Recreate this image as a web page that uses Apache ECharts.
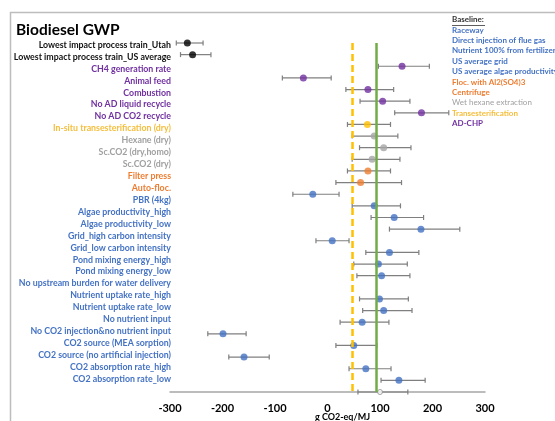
<!DOCTYPE html>
<html>
<head>
<meta charset="utf-8">
<script src="https://cdn.jsdelivr.net/npm/echarts@6.0.0/dist/echarts.min.js"></script>
<style>
  html, body { margin: 0; padding: 0; background: #ffffff; }
  #chart { width: 555px; height: 421px; }
</style>
</head>
<body>
<div id="chart"></div>
<script>
// Sensitivity scenarios (top to bottom) and their process group
const scenarios = [
  'Lowest impact process train_Utah',
  'Lowest impact process train_US average',
  'CH4 generation rate',
  'Animal feed',
  'Combustion',
  'No AD liquid recycle',
  'No AD CO2 recycle',
  'In-situ transesterification (dry)',
  'Hexane (dry)',
  'Sc.CO2 (dry,homo)',
  'Sc.CO2 (dry)',
  'Filter press',
  'Auto-floc.',
  'PBR (4kg)',
  'Algae productivity_high',
  'Algae productivity_low',
  'Grid_high carbon intensity',
  'Grid_low carbon intensity',
  'Pond mixing energy_high',
  'Pond mixing energy_low',
  'No upstream burden for water delivery',
  'Nutrient uptake rate_high',
  'Nutrient uptake rate_low',
  'No nutrient input',
  'No CO2 injection&no nutrient input',
  'CO2 source (MEA sorption)',
  'CO2 source (no artificial injection)',
  'CO2 absorption rate_high',
  'CO2 absorption rate_low'
];
const scenarioGroup = [
  'train', 'train',
  'ad', 'ad', 'ad', 'ad', 'ad',
  'conversion',
  'extraction', 'extraction', 'extraction',
  'harvest', 'harvest',
  'cultivation', 'cultivation', 'cultivation', 'cultivation', 'cultivation',
  'cultivation', 'cultivation', 'cultivation', 'cultivation', 'cultivation',
  'cultivation', 'cultivation', 'cultivation', 'cultivation', 'cultivation',
  'cultivation'
];

// GWP, g CO2-eq/MJ: mean and uncertainty range
const gwpMean = [-267, -257, 142, -46, 77, 105, 179, 76, 89, 107, 85, 77, 63, -28,
  89, 127, 178, 9, 118, 97, 103, 99, 107, 66, -199, 50, -159, 73, 136];
const gwpLow = [-288, -280, 97, -86, 35, 62, 128, 38, 47, 61, 47, 38, 16, -66,
  47, 83, 118, -22, 73, 50, 56, 61, 67, 24, -228, 16, -188, 41, 102];
const gwpHigh = [-237, -222, 194, 7, 126, 157, 231, 120, 134, 159, 138, 120, 141, 22,
  139, 183, 252, 41, 174, 152, 157, 154, 161, 117, -155, 94, -111, 121, 186];

// Baseline pathway result
const baselineName = 'Baseline';
const baselineGwp = [100, 58, 153]; // mean, low, high

// Reference lines
const petroleumDiesel = 92;
const reductionTarget = 48;

// Baseline pathway description
const baselineItems = [
  'Raceway',
  'Direct injection of flue gas',
  'Nutrient 100% from fertilizer',
  'US average grid',
  'US average algae productivity',
  'Floc. with Al2(SO4)3',
  'Centrifuge',
  'Wet hexane extraction',
  'Transesterification',
  'AD-CHP'
];
const baselineItemGroup = ['cultivation', 'cultivation', 'cultivation', 'cultivation', 'cultivation',
  'harvest', 'harvest', 'extraction', 'conversion', 'ad'];

// Colours per process group
const groupColor = {
  train: '#000000',
  ad: '#7030A0',
  conversion: '#FFC000',
  extraction: '#A5A5A5',
  harvest: '#ED7D31',
  cultivation: '#4472C4'
};
const labelColor = {
  train: '#111111',
  ad: '#7030A0',
  conversion: '#F5BE3C',
  extraction: '#A0A0A0',
  harvest: '#ED7D31',
  cultivation: '#4472C4'
};

// Marker rows: one spare row after the water-delivery case, baseline on the axis
const gapAfter = 20;
const markerRows = scenarios.slice(0, gapAfter + 1)
  .concat([' '])
  .concat(scenarios.slice(gapAfter + 1))
  .concat([baselineName]);
const rowOf = name => markerRows.indexOf(name);

const font = 'Lato, "Open Sans", sans-serif';

const whiskerData = scenarios.map((s, i) => [gwpLow[i], gwpHigh[i], rowOf(s)])
  .concat([[baselineGwp[1], baselineGwp[2], rowOf(baselineName)]]);

const pointData = scenarios.map((s, i) => ({
  value: [gwpMean[i], rowOf(s)],
  itemStyle: { color: groupColor[scenarioGroup[i]] }
})).concat([{
  value: [baselineGwp[0], rowOf(baselineName)],
  symbolSize: 5,
  itemStyle: { color: '#ffffff', borderColor: '#8c8c8c', borderWidth: 1 }
}]);

const legendGraphics = [];
legendGraphics.push({
  type: 'text', left: 452, top: 15,
  style: { text: 'Baseline:', font: 'bold 8px ' + font, fill: '#333333' }
});
legendGraphics.push({
  type: 'line', shape: { x1: 452, y1: 25.5, x2: 485, y2: 25.5 },
  style: { stroke: '#333333', lineWidth: 0.8 }
});
baselineItems.forEach((t, i) => {
  legendGraphics.push({
    type: 'text', left: 452, top: 26 + i * 10.4,
    style: {
      text: t,
      font: (baselineItemGroup[i] === 'extraction' ? 'normal ' : 'bold ') + '8px ' + font,
      fill: labelColor[baselineItemGroup[i]]
    }
  });
});

const chart = echarts.init(document.getElementById('chart'), null, { renderer: 'canvas' });

chart.setOption({
  animation: false,
  backgroundColor: '#ffffff',
  title: {
    text: 'Biodiesel GWP',
    left: 11, top: 17,
    textStyle: { fontFamily: font, fontSize: 15.5, fontWeight: 'bold', color: '#000000' }
  },
  graphic: [
    {
      type: 'rect', left: 8, top: 10, z: -1,
      shape: { width: 700, height: 500 },
      style: { fill: 'none', stroke: '#bdbdbd', lineWidth: 1.5 }
    }
  ].concat(legendGraphics),
  grid: [
    { left: 170, top: 43, width: 315, height: 349, outerBoundsMode: 'none', containLabel: false },
    { left: 174, top: 39, width: 10, height: 346, outerBoundsMode: 'none', containLabel: false }
  ],
  xAxis: [
    {
      gridIndex: 0, type: 'value', min: -300, max: 300, interval: 100,
      splitLine: { show: false },
      axisTick: { show: false },
      axisLine: { show: true, onZero: false, lineStyle: { color: '#a6a6a6', width: 1.5 } },
      axisLabel: { fontFamily: font, fontSize: 11, fontWeight: 'bold', color: '#000000', margin: 11 },
      name: 'g CO2-eq/MJ', nameLocation: 'middle', nameGap: 21, nameMoveOverlap: false,
      nameTextStyle: { fontFamily: font, fontSize: 9, fontWeight: 'bold', color: '#000000', padding: [0, 0, 0, 30] }
    },
    { gridIndex: 1, type: 'value', show: false }
  ],
  yAxis: [
    {
      gridIndex: 0, type: 'category', data: markerRows, inverse: true,
      boundaryGap: false,
      axisLine: { show: false }, axisTick: { show: false },
      axisLabel: { show: false }, splitLine: { show: false }
    },
    {
      gridIndex: 1, type: 'category', data: scenarios, inverse: true,
      axisLine: { show: false }, axisTick: { show: false }, splitLine: { show: false },
      axisLabel: {
        margin: 3, interval: 0,
        fontFamily: font, fontSize: 8.8, fontWeight: 'bold',
        color: (v, i) => labelColor[scenarioGroup[i]]
      }
    }
  ],
  series: [
    {
      type: 'custom',
      xAxisIndex: 0, yAxisIndex: 0,
      z: 2,
      encode: { x: [0, 1], y: 2 },
      data: whiskerData,
      renderItem: (params, api) => {
        const a = api.coord([api.value(0), api.value(2)]);
        const b = api.coord([api.value(1), api.value(2)]);
        const cap = 2.5;
        const st = { stroke: '#7f7f7f', lineWidth: 1.2 };
        return {
          type: 'group',
          children: [
            { type: 'line', shape: { x1: a[0], y1: a[1], x2: b[0], y2: b[1] }, style: st },
            { type: 'line', shape: { x1: a[0], y1: a[1] - cap, x2: a[0], y2: a[1] + cap }, style: st },
            { type: 'line', shape: { x1: b[0], y1: b[1] - cap, x2: b[0], y2: b[1] + cap }, style: st }
          ]
        };
      }
    },
    {
      type: 'line',
      xAxisIndex: 0, yAxisIndex: 0,
      z: 1,
      data: [],
      markLine: {
        silent: true,
        symbol: 'none',
        label: { show: false },
        data: [
          { xAxis: petroleumDiesel, lineStyle: { color: '#70AD47', width: 2.5, type: 'solid' } },
          { xAxis: reductionTarget, lineStyle: { color: '#FFC000', width: 2.5, type: [7, 4] } }
        ]
      }
    },
    {
      type: 'scatter',
      xAxisIndex: 0, yAxisIndex: 0,
      z: 3,
      symbol: 'circle',
      symbolSize: 7,
      data: pointData
    }
  ]
});
</script>
</body>
</html>
